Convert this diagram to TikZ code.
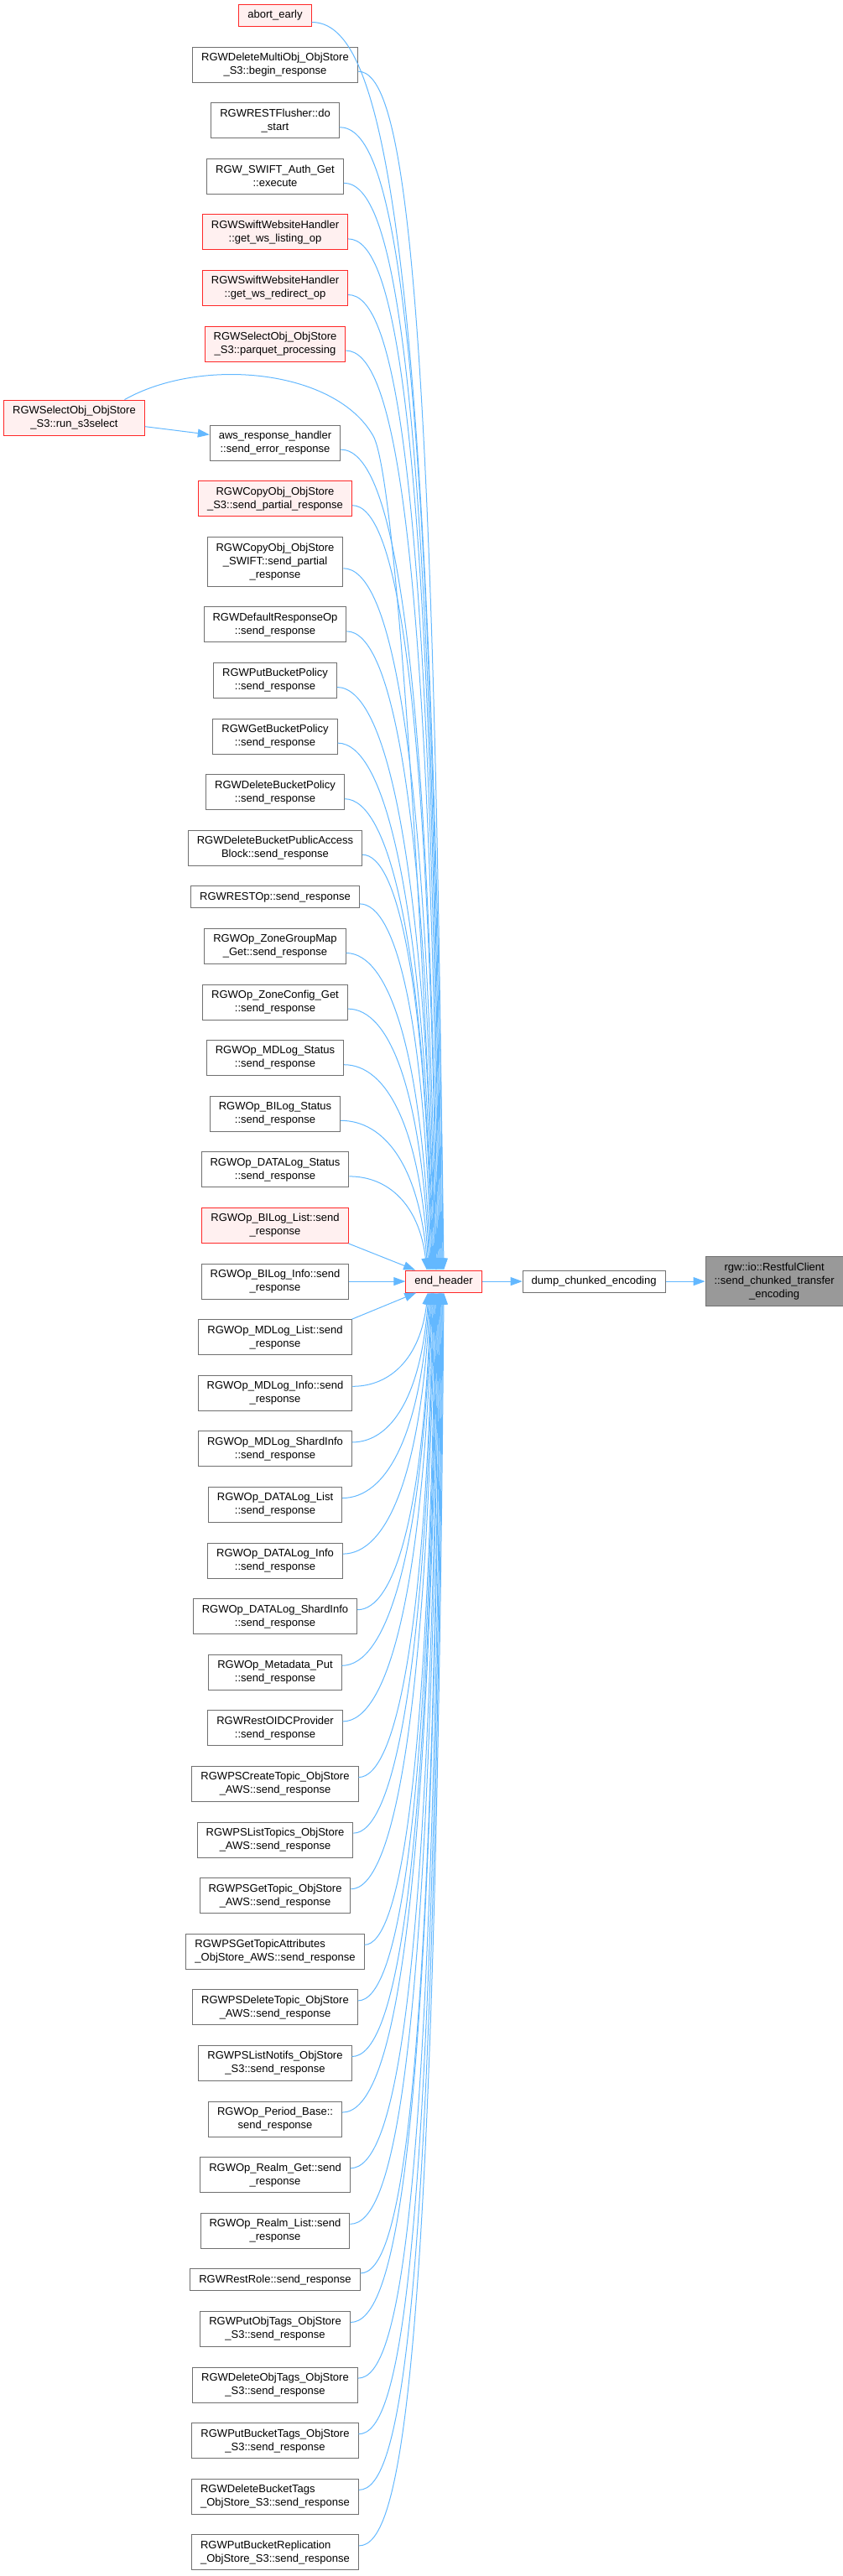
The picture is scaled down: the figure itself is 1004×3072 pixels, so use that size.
\documentclass[tikz,border=0pt]{standalone}
\usepackage{fontspec}
\setmainfont{Liberation Sans}
\usepackage{tikz}
\usetikzlibrary{arrows.meta, positioning, calc}
\usepackage{xcolor}

\definecolor{linegray}{HTML}{707070}
\definecolor{hitred}{HTML}{FF2828}
\definecolor{hitfill}{HTML}{FFF0F0}
\definecolor{curgray}{HTML}{999999}
\definecolor{edgeblue}{HTML}{63B8FF}

\begin{document}
\begin{tikzpicture}[
    x=1pt, y=-1pt,
    node distance=23.6pt,
    func/.style={
        rectangle, draw=linegray, fill=white, line width=1pt,
        minimum height=42pt, inner xsep=10.5pt, inner ysep=0pt,
        align=center, font=\fontsize{13}{16}\selectfont
    },
    redfunc/.style={func, draw=hitred, fill=hitfill},
    curfunc/.style={func, draw=linegray, fill=curgray},
    oneline/.style={minimum height=26pt},
    threeline/.style={minimum height=59pt},
    arrow/.style={-{Triangle[length=14pt, width=10pt]}, draw=edgeblue, line width=1pt},
]

\useasboundingbox (0,0) rectangle (1004,3072);

% callers of end_header
\node[redfunc, oneline] (c1) at (328,18.5) {abort\_early};
\node[func, below=of c1]  (c2)  {RGWDeleteMultiObj\_ObjStore\\\_S3::begin\_response};
\node[func, below=of c2]  (c3)  {RGWRESTFlusher::do\\\_start};
\node[func, below=of c3]  (c4)  {RGW\_SWIFT\_Auth\_Get\\::execute};
\node[redfunc, below=of c4] (c5) {RGWSwiftWebsiteHandler\\::get\_ws\_listing\_op};
\node[redfunc, below=of c5] (c6) {RGWSwiftWebsiteHandler\\::get\_ws\_redirect\_op};
\node[redfunc, below=of c6] (c7) {RGWSelectObj\_ObjStore\\\_S3::parquet\_processing};
\node[func, below=75pt of c7] (c8) {aws\_response\_handler\\::send\_error\_response};
\node[redfunc, below=of c8] (c9) {RGWCopyObj\_ObjStore\\\_S3::send\_partial\_response};
\node[func, threeline, below=of c9] (c10) {RGWCopyObj\_ObjStore\\\_SWIFT::send\_partial\\\_response};
\node[func, below=of c10] (c11) {RGWDefaultResponseOp\\::send\_response};
\node[func, below=of c11] (c12) {RGWPutBucketPolicy\\::send\_response};
\node[func, below=of c12] (c13) {RGWGetBucketPolicy\\::send\_response};
\node[func, below=of c13] (c14) {RGWDeleteBucketPolicy\\::send\_response};
\node[func, below=of c14] (c15) {RGWDeleteBucketPublicAccess\\Block::send\_response};
\node[func, oneline, below=of c15] (c16) {RGWRESTOp::send\_response};
\node[func, below=of c16] (c17) {RGWOp\_ZoneGroupMap\\\_Get::send\_response};
\node[func, below=of c17] (c18) {RGWOp\_ZoneConfig\_Get\\::send\_response};
\node[func, below=of c18] (c19) {RGWOp\_MDLog\_Status\\::send\_response};
\node[func, below=of c19] (c20) {RGWOp\_BILog\_Status\\::send\_response};
\node[func, below=of c20] (c21) {RGWOp\_DATALog\_Status\\::send\_response};
\node[redfunc, below=of c21] (c22) {RGWOp\_BILog\_List::send\\\_response};
\node[func, below=of c22] (c23) {RGWOp\_BILog\_Info::send\\\_response};
\node[func, below=of c23] (c24) {RGWOp\_MDLog\_List::send\\\_response};
\node[func, below=of c24] (c25) {RGWOp\_MDLog\_Info::send\\\_response};
\node[func, below=of c25] (c26) {RGWOp\_MDLog\_ShardInfo\\::send\_response};
\node[func, below=of c26] (c27) {RGWOp\_DATALog\_List\\::send\_response};
\node[func, below=of c27] (c28) {RGWOp\_DATALog\_Info\\::send\_response};
\node[func, below=of c28] (c29) {RGWOp\_DATALog\_ShardInfo\\::send\_response};
\node[func, below=of c29] (c30) {RGWOp\_Metadata\_Put\\::send\_response};
\node[func, below=of c30] (c31) {RGWRestOIDCProvider\\::send\_response};
\node[func, below=of c31] (c32) {RGWPSCreateTopic\_ObjStore\\\_AWS::send\_response};
\node[func, below=of c32] (c33) {RGWPSListTopics\_ObjStore\\\_AWS::send\_response};
\node[func, below=of c33] (c34) {RGWPSGetTopic\_ObjStore\\\_AWS::send\_response};
\node[func, align=left, below=of c34] (c35) {RGWPSGetTopicAttributes\\\_ObjStore\_AWS::send\_response};
\node[func, below=of c35] (c36) {RGWPSDeleteTopic\_ObjStore\\\_AWS::send\_response};
\node[func, below=of c36] (c37) {RGWPSListNotifs\_ObjStore\\\_S3::send\_response};
\node[func, below=of c37] (c38) {RGWOp\_Period\_Base::\\send\_response};
\node[func, below=of c38] (c39) {RGWOp\_Realm\_Get::send\\\_response};
\node[func, below=of c39] (c40) {RGWOp\_Realm\_List::send\\\_response};
\node[func, oneline, below=of c40] (c41) {RGWRestRole::send\_response};
\node[func, below=of c41] (c42) {RGWPutObjTags\_ObjStore\\\_S3::send\_response};
\node[func, below=of c42] (c43) {RGWDeleteObjTags\_ObjStore\\\_S3::send\_response};
\node[func, below=of c43] (c44) {RGWPutBucketTags\_ObjStore\\\_S3::send\_response};
\node[func, align=left, below=of c44] (c45) {RGWDeleteBucketTags\\\_ObjStore\_S3::send\_response};
\node[func, align=left, below=of c45] (c46) {RGWPutBucketReplication\\\_ObjStore\_S3::send\_response};

\node[redfunc, left=77pt of c8, yshift=30pt] (s3sel) {RGWSelectObj\_ObjStore\\\_S3::run\_s3select};

% callee chain
\node[redfunc, oneline, right=67pt of c23] (eh) {end\_header};
\node[func, oneline, right=48pt of eh] (dce) {dump\_chunked\_encoding};
\node[curfunc, threeline, right=47pt of dce] (target) {rgw::io::RestfulClient\\::send\_chunked\_transfer\\\_encoding};

\draw[arrow] (eh) -- (dce);
\draw[arrow] (dce) -- (target);

% edges coming down into end_header
\foreach \i in {1,...,21}
    \draw[arrow] let \p1 = ([yshift=-8pt]c\i.east), \p2 = ([xshift={(1-\i)*1pt}]eh.north),
                     \n1 = {min(0.3*abs(\y2-\y1), 200)} in
        (\p1) .. controls ({\x1+0.5*(\x2-\x1)}, \y1) and ({\x2-0.1*(\x2-\x1)}, {\y1-\n1*1pt}) .. (\p2);

% edges coming up into end_header
\foreach \i in {25,...,46}
    \draw[arrow] let \p1 = ([yshift=8pt]c\i.east), \p2 = ([xshift={(\i-46)*0.9pt}]eh.south),
                     \n1 = {min(0.3*abs(\y2-\y1), 200)} in
        (\p1) .. controls ({\x1+0.5*(\x2-\x1)}, \y1) and ({\x2-0.1*(\x2-\x1)}, {\y1+\n1*1pt}) .. (\p2);

\draw[arrow] (c22.south east) -- (eh);
\draw[arrow] (c23) -- (eh);
\draw[arrow] (c24.north east) -- (eh);

\draw[arrow] (s3sel) -- (c8);
\draw[arrow] ([xshift=60pt]s3sel.north) .. controls (240,425) and (400,440) .. (445,520)
    .. controls (475,573) and (508,1200) .. ([xshift=-9pt]eh.north);

\end{tikzpicture}
\end{document}
